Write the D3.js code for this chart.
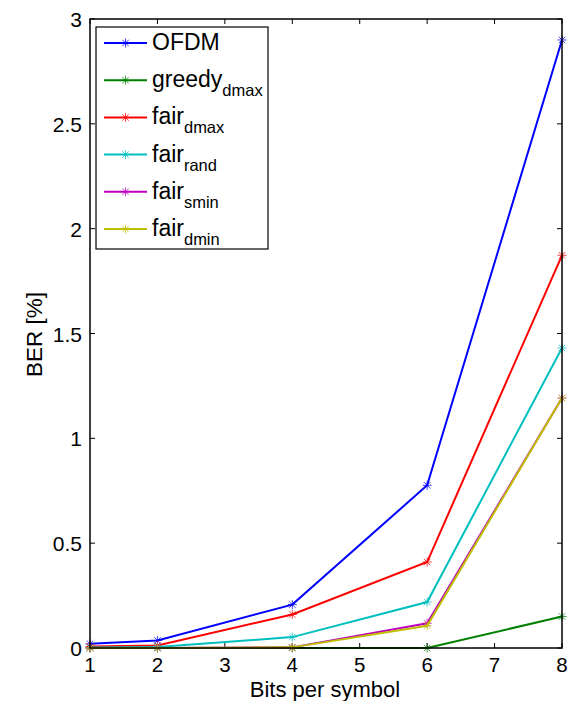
<!DOCTYPE html>
<html>
<head>
<meta charset="utf-8">
<script src="https://cdn.jsdelivr.net/npm/d3@7"></script>
<style>
  body { margin: 0; background: #fff; }
  text { font-family: "Liberation Sans", Arial, sans-serif; fill: #000; }
</style>
</head>
<body>
<div id="chart"></div>
<script>
const bits = [1, 2, 4, 6, 8];
const xTicks = [1, 2, 3, 4, 5, 6, 7, 8];
const yTicks = [0, 0.5, 1, 1.5, 2, 2.5, 3];

const ofdm      = [0.02, 0.036, 0.207, 0.776, 2.90];
const greedyDmax = [0, 0, 0, 0, 0.15];
const fairDmax  = [0.007, 0.012, 0.16, 0.41, 1.873];
const fairRand  = [0.002, 0.005, 0.052, 0.219, 1.431];
const fairSmin  = [0, 0, 0.003, 0.118, 1.192];
const fairDmin  = [0, 0, 0.003, 0.106, 1.192];

const series = [
  { name: "OFDM", sub: "", color: "#0000ff", values: ofdm },
  { name: "greedy", sub: "dmax", color: "#008000", values: greedyDmax },
  { name: "fair", sub: "dmax", color: "#ff0000", values: fairDmax },
  { name: "fair", sub: "rand", color: "#00bfbf", values: fairRand },
  { name: "fair", sub: "smin", color: "#bf00bf", values: fairSmin },
  { name: "fair", sub: "dmin", color: "#bfbf00", values: fairDmin }
];

const W = 577, H = 701;
const margin = { top: 19, right: 15, bottom: 53, left: 90 };
const width = W - margin.left - margin.right,
      height = H - margin.top - margin.bottom;

const svg = d3.select("#chart").append("svg")
  .attr("width", W).attr("height", H)
  .append("g")
  .attr("transform", "translate(" + margin.left + "," + margin.top + ")");

const x = d3.scaleLinear().domain([1, 8]).range([0, width]);
const y = d3.scaleLinear().domain([0, 3]).range([height, 0]);

// ticks inside the box, all four sides
const tickLen = 5;
const tickG = svg.append("g").attr("stroke", "#000").attr("stroke-width", 1);
xTicks.forEach(t => {
  tickG.append("line").attr("x1", x(t)).attr("x2", x(t)).attr("y1", height).attr("y2", height - tickLen);
  tickG.append("line").attr("x1", x(t)).attr("x2", x(t)).attr("y1", 0).attr("y2", tickLen);
});
yTicks.forEach(t => {
  tickG.append("line").attr("x1", 0).attr("x2", tickLen).attr("y1", y(t)).attr("y2", y(t));
  tickG.append("line").attr("x1", width).attr("x2", width - tickLen).attr("y1", y(t)).attr("y2", y(t));
});

svg.append("g").selectAll("text").data(xTicks).enter().append("text")
  .attr("x", d => x(d)).attr("y", height + 24)
  .attr("text-anchor", "middle").style("font-size", "20.5px")
  .text(d => d);

svg.append("g").selectAll("text").data(yTicks).enter().append("text")
  .attr("x", -8).attr("y", d => y(d) + 8)
  .attr("text-anchor", "end").style("font-size", "21px")
  .text(d => d);

svg.append("text")
  .attr("x", width / 2 - 1).attr("y", height + 49)
  .attr("text-anchor", "middle").style("font-size", "22px")
  .text("Bits per symbol");

svg.append("text")
  .attr("transform", "translate(-48.5," + (height / 2 + 1) + ") rotate(-90)")
  .attr("text-anchor", "middle").style("font-size", "22.5px")
  .text("BER [%]");

const line = d3.line().x((d, i) => x(bits[i])).y(d => y(d));

function star(g, cx, cy, color) {
  const r = 4.5, d = r * 0.72;
  const p = g.append("g").attr("stroke", color).attr("stroke-width", 1).attr("opacity", 0.75);
  p.append("line").attr("x1", cx - r).attr("x2", cx + r).attr("y1", cy).attr("y2", cy);
  p.append("line").attr("x1", cx).attr("x2", cx).attr("y1", cy - r).attr("y2", cy + r);
  p.append("line").attr("x1", cx - d).attr("x2", cx + d).attr("y1", cy - d).attr("y2", cy + d);
  p.append("line").attr("x1", cx - d).attr("x2", cx + d).attr("y1", cy + d).attr("y2", cy - d);
}

const plot = svg.append("g");
series.forEach(s => {
  plot.append("path").datum(s.values)
    .attr("fill", "none").attr("stroke", s.color).attr("stroke-width", 2)
    .attr("d", line);
  s.values.forEach((v, i) => star(plot, x(bits[i]), y(v), s.color));
});

// axes box
svg.append("rect").attr("x", 0).attr("y", 0).attr("width", width).attr("height", height)
  .attr("fill", "none").attr("stroke", "#000").attr("stroke-width", 1.5);

// legend
const lg = svg.append("g").attr("transform", "translate(6,8)");
lg.append("rect").attr("width", 172).attr("height", 222)
  .attr("fill", "#fff").attr("stroke", "#000").attr("stroke-width", 1.2);
series.forEach((s, i) => {
  const cy = 16 + i * 37.2;
  lg.append("line").attr("x1", 8).attr("x2", 51).attr("y1", cy).attr("y2", cy)
    .attr("stroke", s.color).attr("stroke-width", 2);
  star(lg, 29.5, cy, s.color);
  const t = lg.append("text").attr("x", 56).attr("y", cy + 7).style("font-size", "23px");
  t.append("tspan").text(s.name);
  if (s.sub) t.append("tspan").attr("dy", 9).style("font-size", "16.5px").text(s.sub);
});
</script>
</body>
</html>
